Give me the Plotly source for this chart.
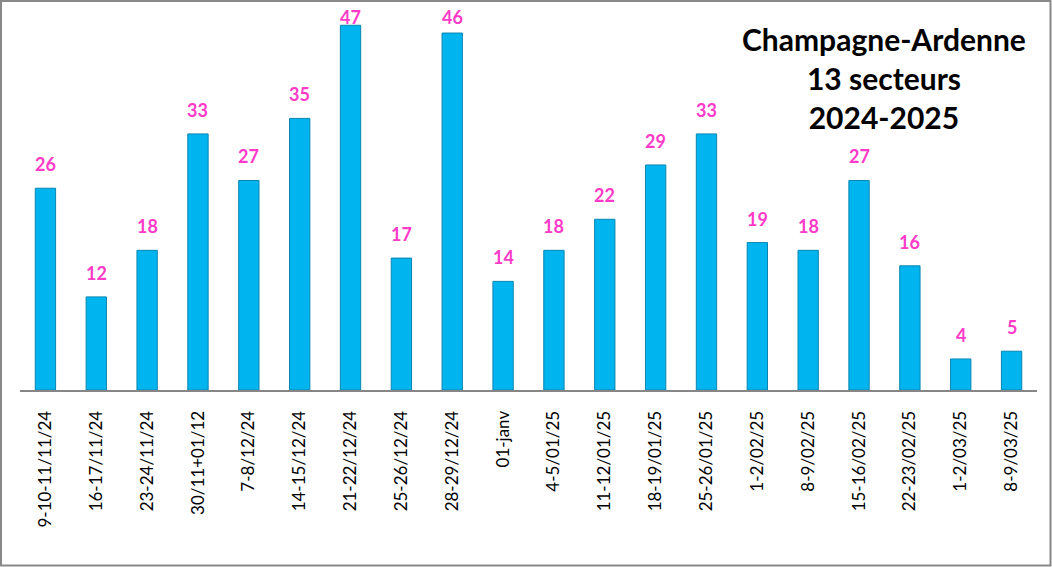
import plotly.graph_objects as go

categories = ["9-10-11/11/24", "16-17/11/24", "23-24/11/24", "30/11+01/12", "7-8/12/24",
              "14-15/12/24", "21-22/12/24", "25-26/12/24", "28-29/12/24", "01-janv",
              "4-5/01/25", "11-12/01/25", "18-19/01/25", "25-26/01/25", "1-2/02/25",
              "8-9/02/25", "15-16/02/25", "22-23/02/25", "1-2/03/25", "8-9/03/25"]
values = [26, 12, 18, 33, 27, 35, 47, 17, 46, 14, 18, 22, 29, 33, 19, 18, 27, 16, 4, 5]
title_lines = ["Champagne-Ardenne", "13 secteurs", "2024-2025"]

W, H = 1052, 567
L, R, T, B = 20, 15, 2, 177
PW, PH = W - L - R, H - T - B
YMAX = 50
PPU = PH / YMAX  # pixels per data unit

def px(x):
    return (x - L) / PW

def py(y):
    return (H - B - y) / PH

# labels sit above their bar, but are kept inside the chart near the top
label_limit = YMAX - 28 / PPU
fig = go.Figure()
fig.add_trace(go.Bar(
    x=categories, y=values,
    marker=dict(color="#00B4F0", line=dict(color="#0A86B0", width=1)),
    width=0.4, hoverinfo="x+y",
))

annotations = [dict(x=c, y=v, xref="x", yref="y", text="<b>%d</b>" % v,
                    showarrow=False, xanchor="center", yanchor="bottom",
                    yshift=min(11, (label_limit - v) * PPU),
                    font=dict(family="Lato", size=18, color="#FF3BC8"))
               for c, v in zip(categories, values)]
annotations.append(dict(x=px(884), y=py(78), xref="paper", yref="paper",
                        xanchor="center", yanchor="middle",
                        text="<br>".join("<b>%s</b>" % s for s in title_lines),
                        showarrow=False, align="center",
                        font=dict(family="Lato", size=30, color="black")))

fig.update_layout(
    width=W, height=H,
    margin=dict(l=L, r=R, t=T, b=B),
    paper_bgcolor="white", plot_bgcolor="white",
    showlegend=False,
    font=dict(family="Lato", color="black"),
    xaxis=dict(showline=True, linecolor="#868686", linewidth=2, ticks="",
               tickangle=-90, tickfont=dict(family="Lato", size=17, color="black"),
               ticklabelstandoff=12, showgrid=False, automargin=False),
    yaxis=dict(range=[0, YMAX], visible=False, showgrid=False, zeroline=False,
               automargin=False),
    annotations=annotations,
    shapes=[dict(type="rect", xref="paper", yref="paper",
                 x0=px(1), x1=px(1050.5), y0=py(565.5), y1=py(1),
                 line=dict(color="#888888", width=2), fillcolor="rgba(0,0,0,0)")],
)

fig.write_html("out.html", config={"displayModeBar": False},
               post_script="document.body.style.margin='0';")
